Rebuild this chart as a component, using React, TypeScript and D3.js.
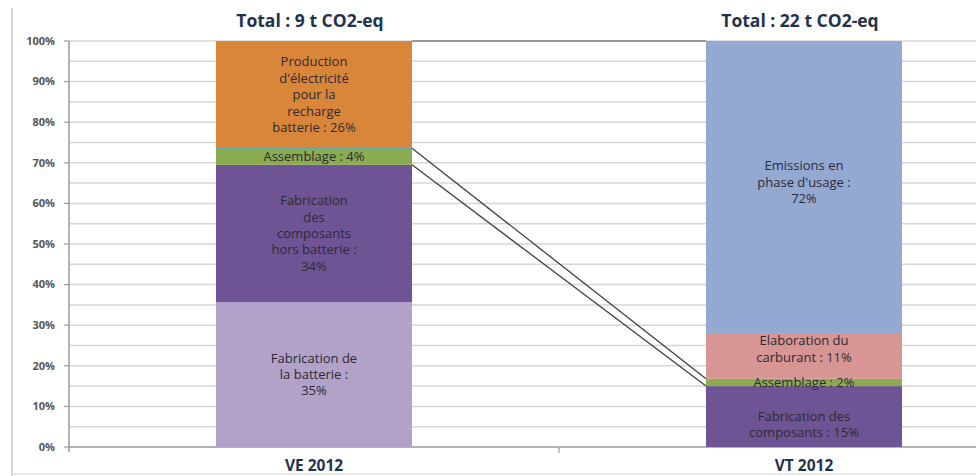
import React from 'react'
import * as d3 from 'd3'

// categories and titles
const categories = ['VE 2012', 'VT 2012']
const totals = ['Total : 9 t CO2-eq', 'Total : 22 t CO2-eq']

// VE 2012 stack, bottom to top (% of total)
const veNames = ['batterie', 'composantsHB', 'assemblage', 'electricite']
const veValues = [35.7, 33.8, 4.1, 26.4]
const veLabels = [
  ['Fabrication de', 'la batterie :', '35%'],
  ['Fabrication', 'des', 'composants', 'hors batterie :', '34%'],
  ['Assemblage : 4%'],
  ['Production', "d'électricité", 'pour la', 'recharge', 'batterie : 26%'],
]
const veColors = ['#b2a1c9', '#6e5494', '#8bab50', '#d9863a']

// VT 2012 stack, bottom to top
const vtNames = ['composants', 'assemblage', 'carburant', 'usage']
const vtValues = [15.0, 1.8, 11.3, 71.9]
const vtLabels = [
  ['Fabrication des', 'composants : 15%'],
  ['Assemblage : 2%'],
  ['Elaboration du', 'carburant : 11%'],
  ['Emissions en', "phase d'usage :", '72%'],
]
const vtColors = ['#6e5494', '#8bab50', '#d79593', '#94a9d1']

const yTicks = [0, 10, 20, 30, 40, 50, 60, 70, 80, 90, 100]
const gridSteps = d3.range(5, 101, 5)

const W = 976
const H = 476
const font = '"Open Sans", Lato, sans-serif'

// labels around the thin VT segment are pushed away from it, like in Excel
const nudge: Record<string, number> = { composants: 8, carburant: -7, usage: -5 }

function stack(values: number[]) {
  let acc = 0
  return values.map(v => {
    const s = { y0: acc, y1: acc + v }
    acc += v
    return s
  })
}

export default function App() {
  const x = d3.scaleBand().domain(categories).range([69, 1049]).paddingInner(0.6).paddingOuter(0.3)
  const y = d3.scaleLinear().domain([0, 100]).range([447, 41])
  const bw = x.bandwidth()

  const stacks = [
    { cat: categories[0], segs: stack(veValues), labels: veLabels, colors: veColors, names: veNames },
    { cat: categories[1], segs: stack(vtValues), labels: vtLabels, colors: vtColors, names: vtNames },
  ]

  const veAss = stacks[0].segs[2]
  const vtAss = stacks[1].segs[1]
  const leftX = (x(categories[0]) as number) + bw
  const rightX = x(categories[1]) as number
  const midTick = rightX - x.step() * 0.3

  const lineH = 16.4

  return (
    <svg width={W} height={H} style={{ position: 'absolute', left: 0, top: 0, background: '#fff' }}>
      {/* frame */}
      <line x1={12} x2={12} y1={8} y2={H} stroke="#c8c8c8" strokeWidth={1.5} />
      <line x1={12} x2={W} y1={474} y2={474} stroke="#e2e2e2" strokeWidth={1.5} />

      {/* gridlines */}
      {gridSteps.map(g => (
        <line key={`g${g}`} x1={69} x2={W} y1={y(g)} y2={y(g)} stroke="#d6d6d6" strokeWidth={1.5} />
      ))}

      {/* y axis */}
      <line x1={69} x2={69} y1={y(100)} y2={y(0) + 5} stroke="#9a9a9a" strokeWidth={1.5} />
      {yTicks.map(t => (
        <g key={`t${t}`}>
          <line x1={64} x2={69} y1={y(t)} y2={y(t)} stroke="#9a9a9a" strokeWidth={1.2} />
          <text x={55} y={y(t)} dy="0.35em" textAnchor="end" fontFamily={font} fontWeight={700}
            fontSize={11} fill="#555">{t}%</text>
        </g>
      ))}

      {/* x axis */}
      <line x1={69} x2={W} y1={y(0)} y2={y(0)} stroke="#9a9a9a" strokeWidth={1.5} />
      <line x1={midTick} x2={midTick} y1={y(0)} y2={y(0) + 6} stroke="#9a9a9a" strokeWidth={1.2} />

      {/* bars */}
      {stacks.map(s => (
        <g key={s.cat}>
          {s.segs.map((d, i) => (
            <rect key={s.names[i]} x={x(s.cat)} y={y(d.y1)} width={bw} height={y(d.y0) - y(d.y1)} fill={s.colors[i]} />
          ))}
        </g>
      ))}
      {/* thin line on top of VE assemblage */}
      <line x1={x(categories[0])} x2={leftX} y1={y(veAss.y1)} y2={y(veAss.y1)} stroke="#4bacc6" strokeWidth={1.2} />

      {/* series lines */}
      <line x1={leftX} x2={rightX} y1={y(100)} y2={y(100)} stroke="#808080" strokeWidth={1.5} />
      <line x1={leftX} x2={rightX} y1={y(veAss.y1)} y2={y(vtAss.y1)} stroke="#404040" strokeWidth={1.3} />
      <line x1={leftX} x2={rightX} y1={y(veAss.y0)} y2={y(vtAss.y0)} stroke="#404040" strokeWidth={1.3} />

      {/* segment labels */}
      {stacks.map(s => (
        <g key={`l${s.cat}`}>
          {s.segs.map((d, i) => {
            const lines = s.labels[i]
            const cy = (y(d.y0) + y(d.y1)) / 2 + (s.cat === categories[1] ? nudge[s.names[i]] || 0 : 0)
            const cx = (x(s.cat) as number) + bw / 2
            return (
              <text key={`lt${i}`} x={cx} textAnchor="middle" fontFamily={font} fontSize={13} fill="#2e2a35">
                {lines.map((ln, j) => (
                  <tspan key={j} x={cx} y={cy + (j - (lines.length - 1) / 2) * lineH} dy="0.35em">{ln}</tspan>
                ))}
              </text>
            )
          })}
        </g>
      ))}

      {/* totals */}
      {categories.map((c, i) => (
        <text key={`tot${c}`} x={(x(c) as number) + bw / 2 - 4} y={27} textAnchor="middle" fontFamily={font}
          fontWeight={700} fontSize={17.5} fill="#1f3350">{totals[i]}</text>
      ))}

      {/* category labels */}
      {categories.map(c => (
        <text key={`cat${c}`} x={(x(c) as number) + bw / 2} y={471} textAnchor="middle" fontFamily={font}
          fontWeight={700} fontSize={15.5} fill="#1f3350">{c}</text>
      ))}
    </svg>
  )
}
